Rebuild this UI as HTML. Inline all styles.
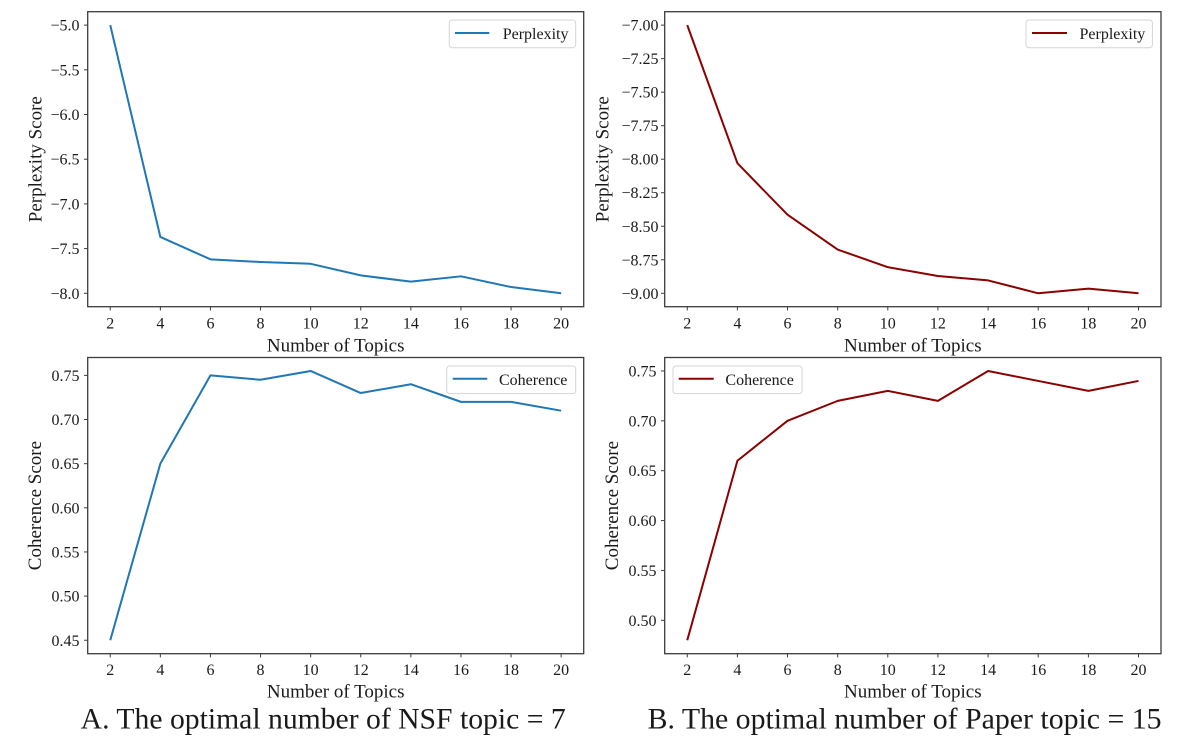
<!DOCTYPE html>
<html>
<head>
<meta charset="utf-8">
<style>
  html, body { margin:0; padding:0; background:#fff; }
  svg { display:block; }
  text { font-family: "Liberation Serif", "Times New Roman", serif; fill:#1a1a1a; }
</style>
</head>
<body>
<svg width="1200" height="747" viewBox="0 0 1200 747" xmlns="http://www.w3.org/2000/svg">
  <rect x="0" y="0" width="1200" height="747" fill="#fff"/>

  <!-- ================= TOP LEFT ================= -->
  <g>
    <polyline fill="none" stroke="#1f77b4" stroke-width="2" stroke-linejoin="round"
      points="110.25,25.11 160.35,236.97 210.45,259.32 260.55,262.0 310.65,263.79 360.75,275.41 410.85,281.67 460.95,276.31 511.05,287.03 561.15,293.29"/>
    <rect x="87.7" y="11.7" width="496" height="295" fill="none" stroke="#3c3c3c" stroke-width="1.3"/>
    <g stroke="#3c3c3c" stroke-width="1">
      <line x1="110.25" y1="306.7" x2="110.25" y2="310.4"/>
      <line x1="160.35" y1="306.7" x2="160.35" y2="310.4"/>
      <line x1="210.45" y1="306.7" x2="210.45" y2="310.4"/>
      <line x1="260.55" y1="306.7" x2="260.55" y2="310.4"/>
      <line x1="310.65" y1="306.7" x2="310.65" y2="310.4"/>
      <line x1="360.75" y1="306.7" x2="360.75" y2="310.4"/>
      <line x1="410.85" y1="306.7" x2="410.85" y2="310.4"/>
      <line x1="460.95" y1="306.7" x2="460.95" y2="310.4"/>
      <line x1="511.05" y1="306.7" x2="511.05" y2="310.4"/>
      <line x1="561.15" y1="306.7" x2="561.15" y2="310.4"/>
      <line x1="84" y1="25.11" x2="87.7" y2="25.11"/>
      <line x1="84" y1="69.81" x2="87.7" y2="69.81"/>
      <line x1="84" y1="114.51" x2="87.7" y2="114.51"/>
      <line x1="84" y1="159.21" x2="87.7" y2="159.21"/>
      <line x1="84" y1="203.9" x2="87.7" y2="203.9"/>
      <line x1="84" y1="248.6" x2="87.7" y2="248.6"/>
      <line x1="84" y1="293.3" x2="87.7" y2="293.3"/>
    </g>
    <g font-size="16" text-anchor="middle">
      <text x="110.25" y="328.3">2</text>
      <text x="160.35" y="328.3">4</text>
      <text x="210.45" y="328.3">6</text>
      <text x="260.55" y="328.3">8</text>
      <text x="310.65" y="328.3">10</text>
      <text x="360.75" y="328.3">12</text>
      <text x="410.85" y="328.3">14</text>
      <text x="460.95" y="328.3">16</text>
      <text x="511.05" y="328.3">18</text>
      <text x="561.15" y="328.3">20</text>
    </g>
    <g font-size="16" text-anchor="end">
      <text x="79.5" y="30.6">−5.0</text>
      <text x="79.5" y="75.3">−5.5</text>
      <text x="79.5" y="120.0">−6.0</text>
      <text x="79.5" y="164.7">−6.5</text>
      <text x="79.5" y="209.4">−7.0</text>
      <text x="79.5" y="254.1">−7.5</text>
      <text x="79.5" y="298.8">−8.0</text>
    </g>
    <text x="335.7" y="351.5" font-size="19" text-anchor="middle">Number of Topics</text>
    <text transform="translate(41.5,159.2) rotate(-90)" font-size="19" text-anchor="middle">Perplexity Score</text>
    <rect x="449.3" y="20" width="126.4" height="27.7" rx="3" fill="#fff" stroke="#d4d4d4" stroke-width="1"/>
    <line x1="455" y1="33" x2="489.3" y2="33" stroke="#1f77b4" stroke-width="2"/>
    <text x="502.7" y="39" font-size="16">Perplexity</text>
  </g>

  <!-- ================= TOP RIGHT ================= -->
  <g>
    <polyline fill="none" stroke="#8b0000" stroke-width="2" stroke-linejoin="round"
      points="687.26,25.11 737.4,163.22 787.5,214.71 837.7,249.58 887.8,267.14 937.9,275.99 988.1,280.42 1038.2,293.29 1088.4,288.6 1138.5,293.29"/>
    <rect x="664.7" y="11.7" width="496.3" height="295" fill="none" stroke="#3c3c3c" stroke-width="1.3"/>
    <g stroke="#3c3c3c" stroke-width="1">
      <line x1="687.26" y1="306.7" x2="687.26" y2="310.4"/>
      <line x1="737.4" y1="306.7" x2="737.4" y2="310.4"/>
      <line x1="787.5" y1="306.7" x2="787.5" y2="310.4"/>
      <line x1="837.7" y1="306.7" x2="837.7" y2="310.4"/>
      <line x1="887.8" y1="306.7" x2="887.8" y2="310.4"/>
      <line x1="937.9" y1="306.7" x2="937.9" y2="310.4"/>
      <line x1="988.1" y1="306.7" x2="988.1" y2="310.4"/>
      <line x1="1038.2" y1="306.7" x2="1038.2" y2="310.4"/>
      <line x1="1088.4" y1="306.7" x2="1088.4" y2="310.4"/>
      <line x1="1138.5" y1="306.7" x2="1138.5" y2="310.4"/>
      <line x1="661" y1="25.11" x2="664.7" y2="25.11"/>
      <line x1="661" y1="58.63" x2="664.7" y2="58.63"/>
      <line x1="661" y1="92.16" x2="664.7" y2="92.16"/>
      <line x1="661" y1="125.68" x2="664.7" y2="125.68"/>
      <line x1="661" y1="159.2" x2="664.7" y2="159.2"/>
      <line x1="661" y1="192.72" x2="664.7" y2="192.72"/>
      <line x1="661" y1="226.25" x2="664.7" y2="226.25"/>
      <line x1="661" y1="259.77" x2="664.7" y2="259.77"/>
      <line x1="661" y1="293.29" x2="664.7" y2="293.29"/>
    </g>
    <g font-size="16" text-anchor="middle">
      <text x="687.26" y="328.3">2</text>
      <text x="737.4" y="328.3">4</text>
      <text x="787.5" y="328.3">6</text>
      <text x="837.7" y="328.3">8</text>
      <text x="887.8" y="328.3">10</text>
      <text x="937.9" y="328.3">12</text>
      <text x="988.1" y="328.3">14</text>
      <text x="1038.2" y="328.3">16</text>
      <text x="1088.4" y="328.3">18</text>
      <text x="1138.5" y="328.3">20</text>
    </g>
    <g font-size="16" text-anchor="end">
      <text x="658.5" y="30.6">−7.00</text>
      <text x="658.5" y="64.1">−7.25</text>
      <text x="658.5" y="97.7">−7.50</text>
      <text x="658.5" y="131.2">−7.75</text>
      <text x="658.5" y="164.7">−8.00</text>
      <text x="658.5" y="198.2">−8.25</text>
      <text x="658.5" y="231.8">−8.50</text>
      <text x="658.5" y="265.3">−8.75</text>
      <text x="658.5" y="298.8">−9.00</text>
    </g>
    <text x="912.8" y="351.5" font-size="19" text-anchor="middle">Number of Topics</text>
    <text transform="translate(608.5,159.2) rotate(-90)" font-size="19" text-anchor="middle">Perplexity Score</text>
    <rect x="1026" y="20" width="126.4" height="27.7" rx="3" fill="#fff" stroke="#d4d4d4" stroke-width="1"/>
    <line x1="1032" y1="33" x2="1067" y2="33" stroke="#8b0000" stroke-width="2"/>
    <text x="1079.5" y="39" font-size="16">Perplexity</text>
  </g>

  <!-- ================= BOTTOM LEFT ================= -->
  <g>
    <polyline fill="none" stroke="#1f77b4" stroke-width="2" stroke-linejoin="round"
      points="110.25,640.25 160.35,463.67 210.45,375.38 260.55,379.79 310.65,370.96 360.75,393.04 410.85,384.21 460.95,401.87 511.05,401.87 561.15,410.69"/>
    <rect x="87.7" y="357.5" width="496" height="296.2" fill="none" stroke="#3c3c3c" stroke-width="1.3"/>
    <g stroke="#3c3c3c" stroke-width="1">
      <line x1="110.25" y1="653.7" x2="110.25" y2="657.4"/>
      <line x1="160.35" y1="653.7" x2="160.35" y2="657.4"/>
      <line x1="210.45" y1="653.7" x2="210.45" y2="657.4"/>
      <line x1="260.55" y1="653.7" x2="260.55" y2="657.4"/>
      <line x1="310.65" y1="653.7" x2="310.65" y2="657.4"/>
      <line x1="360.75" y1="653.7" x2="360.75" y2="657.4"/>
      <line x1="410.85" y1="653.7" x2="410.85" y2="657.4"/>
      <line x1="460.95" y1="653.7" x2="460.95" y2="657.4"/>
      <line x1="511.05" y1="653.7" x2="511.05" y2="657.4"/>
      <line x1="561.15" y1="653.7" x2="561.15" y2="657.4"/>
      <line x1="84" y1="640.25" x2="87.7" y2="640.25"/>
      <line x1="84" y1="596.1" x2="87.7" y2="596.1"/>
      <line x1="84" y1="551.96" x2="87.7" y2="551.96"/>
      <line x1="84" y1="507.8" x2="87.7" y2="507.8"/>
      <line x1="84" y1="463.67" x2="87.7" y2="463.67"/>
      <line x1="84" y1="419.5" x2="87.7" y2="419.5"/>
      <line x1="84" y1="375.38" x2="87.7" y2="375.38"/>
    </g>
    <g font-size="16" text-anchor="middle">
      <text x="110.25" y="675">2</text>
      <text x="160.35" y="675">4</text>
      <text x="210.45" y="675">6</text>
      <text x="260.55" y="675">8</text>
      <text x="310.65" y="675">10</text>
      <text x="360.75" y="675">12</text>
      <text x="410.85" y="675">14</text>
      <text x="460.95" y="675">16</text>
      <text x="511.05" y="675">18</text>
      <text x="561.15" y="675">20</text>
    </g>
    <g font-size="16" text-anchor="end">
      <text x="79.5" y="645.75">0.45</text>
      <text x="79.5" y="601.6">0.50</text>
      <text x="79.5" y="557.46">0.55</text>
      <text x="79.5" y="513.3">0.60</text>
      <text x="79.5" y="469.17">0.65</text>
      <text x="79.5" y="425.0">0.70</text>
      <text x="79.5" y="380.88">0.75</text>
    </g>
    <text x="335.7" y="697.3" font-size="19" text-anchor="middle">Number of Topics</text>
    <text transform="translate(41,505.6) rotate(-90)" font-size="19" text-anchor="middle">Coherence Score</text>
    <rect x="446.7" y="366" width="129" height="27.6" rx="3" fill="#fff" stroke="#d4d4d4" stroke-width="1"/>
    <line x1="452.7" y1="378.8" x2="487.3" y2="378.8" stroke="#1f77b4" stroke-width="2"/>
    <text x="499" y="384.8" font-size="16">Coherence</text>
  </g>

  <!-- ================= BOTTOM RIGHT ================= -->
  <g>
    <polyline fill="none" stroke="#8b0000" stroke-width="2" stroke-linejoin="round"
      points="687.26,640.24 737.4,460.72 787.5,420.83 837.7,400.88 887.8,390.91 937.9,400.88 988.1,370.96 1038.2,380.94 1088.4,390.91 1138.5,380.94"/>
    <rect x="664.7" y="357.5" width="496.3" height="296.2" fill="none" stroke="#3c3c3c" stroke-width="1.3"/>
    <g stroke="#3c3c3c" stroke-width="1">
      <line x1="687.26" y1="653.7" x2="687.26" y2="657.4"/>
      <line x1="737.4" y1="653.7" x2="737.4" y2="657.4"/>
      <line x1="787.5" y1="653.7" x2="787.5" y2="657.4"/>
      <line x1="837.7" y1="653.7" x2="837.7" y2="657.4"/>
      <line x1="887.8" y1="653.7" x2="887.8" y2="657.4"/>
      <line x1="937.9" y1="653.7" x2="937.9" y2="657.4"/>
      <line x1="988.1" y1="653.7" x2="988.1" y2="657.4"/>
      <line x1="1038.2" y1="653.7" x2="1038.2" y2="657.4"/>
      <line x1="1088.4" y1="653.7" x2="1088.4" y2="657.4"/>
      <line x1="1138.5" y1="653.7" x2="1138.5" y2="657.4"/>
      <line x1="661" y1="620.29" x2="664.7" y2="620.29"/>
      <line x1="661" y1="570.42" x2="664.7" y2="570.42"/>
      <line x1="661" y1="520.56" x2="664.7" y2="520.56"/>
      <line x1="661" y1="470.69" x2="664.7" y2="470.69"/>
      <line x1="661" y1="420.83" x2="664.7" y2="420.83"/>
      <line x1="661" y1="370.96" x2="664.7" y2="370.96"/>
    </g>
    <g font-size="16" text-anchor="middle">
      <text x="687.26" y="675">2</text>
      <text x="737.4" y="675">4</text>
      <text x="787.5" y="675">6</text>
      <text x="837.7" y="675">8</text>
      <text x="887.8" y="675">10</text>
      <text x="937.9" y="675">12</text>
      <text x="988.1" y="675">14</text>
      <text x="1038.2" y="675">16</text>
      <text x="1088.4" y="675">18</text>
      <text x="1138.5" y="675">20</text>
    </g>
    <g font-size="16" text-anchor="end">
      <text x="656.5" y="625.8">0.50</text>
      <text x="656.5" y="575.9">0.55</text>
      <text x="656.5" y="526.1">0.60</text>
      <text x="656.5" y="476.2">0.65</text>
      <text x="656.5" y="426.3">0.70</text>
      <text x="656.5" y="376.5">0.75</text>
    </g>
    <text x="912.8" y="697.3" font-size="19" text-anchor="middle">Number of Topics</text>
    <text transform="translate(618,505.6) rotate(-90)" font-size="19" text-anchor="middle">Coherence Score</text>
    <rect x="673" y="366" width="129" height="27.6" rx="3" fill="#fff" stroke="#d4d4d4" stroke-width="1"/>
    <line x1="678.7" y1="378.8" x2="713.7" y2="378.8" stroke="#8b0000" stroke-width="2"/>
    <text x="725.4" y="384.8" font-size="16">Coherence</text>
  </g>

  <!-- ================= CAPTIONS ================= -->
  <text x="80.7" y="728.3" font-size="29.5" textLength="485" lengthAdjust="spacingAndGlyphs" fill="#111">A. The optimal number of NSF topic = 7</text>
  <text x="647.6" y="728.3" font-size="29.5" textLength="514" lengthAdjust="spacingAndGlyphs" fill="#111">B. The optimal number of Paper topic = 15</text>
</svg>
</body>
</html>
